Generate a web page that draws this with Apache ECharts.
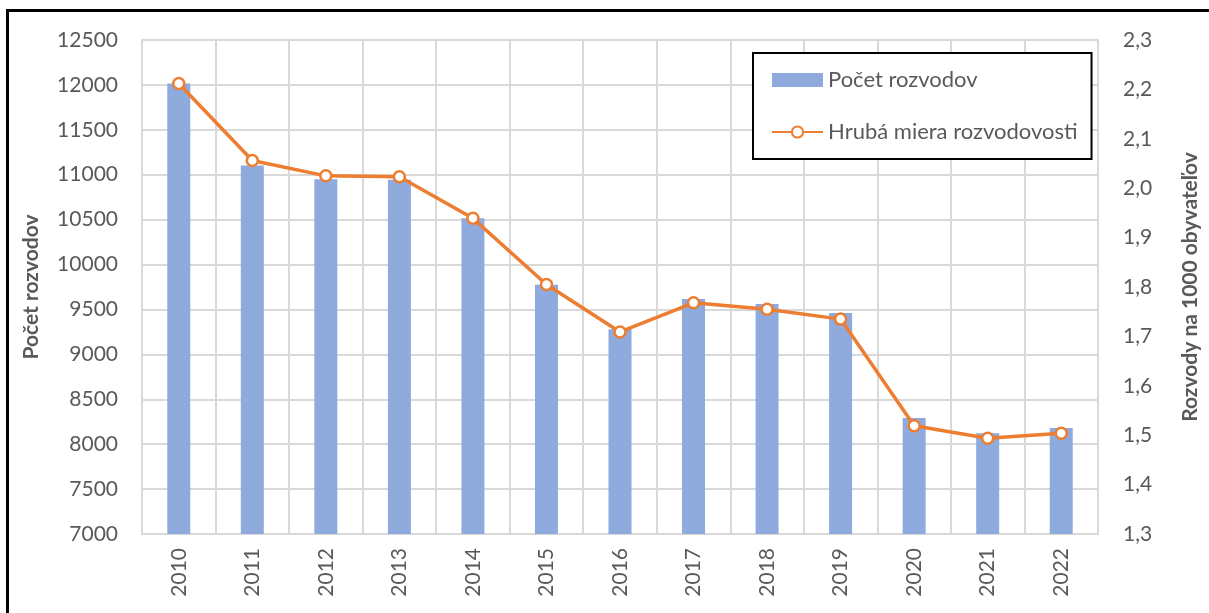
<!DOCTYPE html>
<html>
<head>
<meta charset="utf-8">
<script src="https://cdn.jsdelivr.net/npm/echarts@6/dist/echarts.min.js"></script>
<style>
  html, body { margin: 0; padding: 0; background: #fff; }
  #frame { position: absolute; left: 6px; top: 9px; width: 1300px; height: 700px;
           border-left: 3px solid #000; border-top: 3px solid #000; }
  #chart { position: absolute; left: 0; top: 0; width: 1209px; height: 613px; }
</style>
</head>
<body>
<div id="frame"></div>
<div id="chart"></div>
<script>
const years = ['2010', '2011', '2012', '2013', '2014', '2015', '2016', '2017', '2018', '2019', '2020', '2021', '2022']
const divorces = [12015, 11102, 10950, 10943, 10516, 9776, 9279, 9617, 9561, 9461, 8292, 8121, 8180]
const rate = [2.212, 2.056, 2.025, 2.023, 1.939, 1.805, 1.709, 1.768, 1.755, 1.735, 1.519, 1.494, 1.504]

const font = 'Lato, "Open Sans", sans-serif'
const textColor = '#595959'
const gridColor = '#d9d9d9'

const chart = echarts.init(document.getElementById('chart'))

const option = {
  animation: false,
  textStyle: { fontFamily: font },
  grid: { left: 142, right: 104, top: 40, bottom: 79 },
  legend: {
    orient: 'vertical',
    left: 753,
    top: 53,
    padding: [16, 14, 16, 18],
    itemGap: 30,
    itemWidth: 51,
    itemHeight: 14,
    borderColor: '#000',
    borderWidth: 2,
    backgroundColor: '#fff',
    textStyle: { color: textColor, fontSize: 22, fontFamily: font },
    data: [
      { name: 'Počet rozvodov', icon: 'rect' },
      { name: 'Hrubá miera rozvodovosti' }
    ]
  },
  xAxis: {
    type: 'category',
    data: years,
    axisTick: { show: false },
    axisLine: { lineStyle: { color: gridColor, width: 2 } },
    axisLabel: { rotate: 90, interval: 0, margin: 14, color: textColor, fontSize: 21 },
    splitLine: { show: true, lineStyle: { color: gridColor, width: 2 } }
  },
  yAxis: [
    {
      type: 'value',
      min: 7000,
      max: 12500,
      interval: 500,
      name: 'Počet rozvodov',
      nameLocation: 'middle',
      nameGap: 100,
      nameTextStyle: { color: textColor, fontSize: 21, fontWeight: 'bold' },
      axisLine: { show: true, lineStyle: { color: gridColor, width: 2 } },
      axisLabel: { color: textColor, fontSize: 21, margin: 24, formatter: v => String(v) },
      splitLine: { lineStyle: { color: gridColor, width: 2 } }
    },
    {
      type: 'value',
      min: 1.3,
      max: 2.3,
      interval: 0.1,
      name: 'Rozvody na 1000 obyvateľov',
      nameLocation: 'middle',
      nameGap: 82,
      nameTextStyle: { color: textColor, fontSize: 21, fontWeight: 'bold' },
      axisLine: { show: true, lineStyle: { color: gridColor, width: 2 } },
      axisLabel: {
        color: textColor, fontSize: 21, margin: 25,
        formatter: v => v.toFixed(1).replace('.', ',')
      },
      splitLine: { show: false }
    }
  ],
  series: [
    {
      name: 'Počet rozvodov',
      type: 'bar',
      data: divorces,
      barWidth: 23,
      itemStyle: { color: '#8faadc' }
    },
    {
      name: 'Hrubá miera rozvodovosti',
      type: 'line',
      yAxisIndex: 1,
      data: rate,
      symbol: 'circle',
      symbolSize: 11,
      lineStyle: { color: '#ed7d31', width: 3.5 },
      itemStyle: { color: '#fff', borderColor: '#ed7d31', borderWidth: 2.5 }
    }
  ]
}

chart.setOption(option)
window.addEventListener('resize', () => chart.resize())
</script>
</body>
</html>
